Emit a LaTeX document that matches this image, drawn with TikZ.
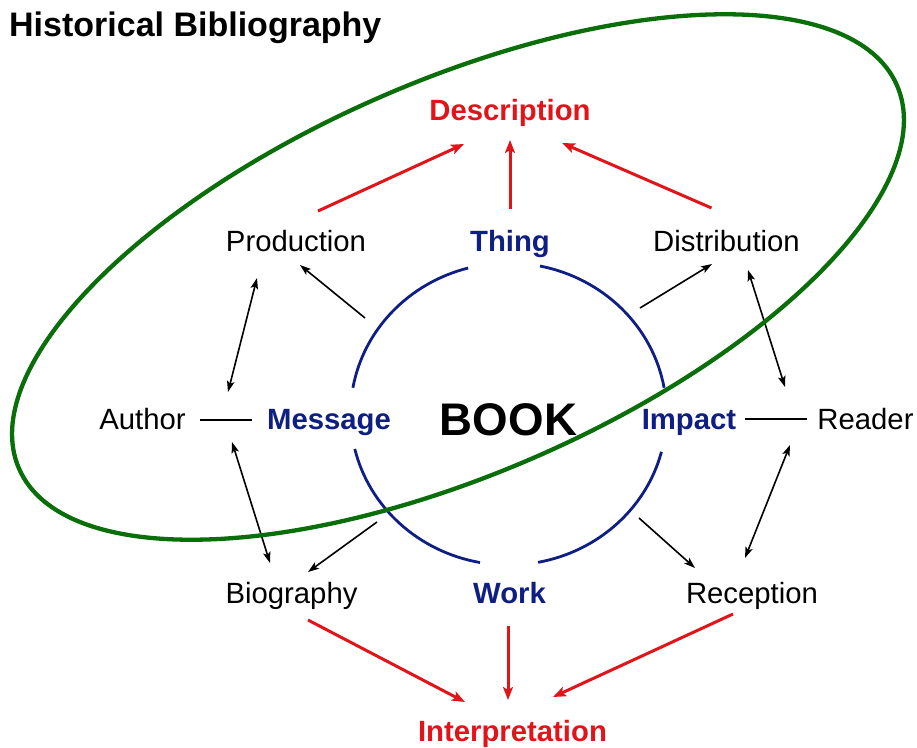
\documentclass[tikz,border=0pt]{standalone}
\usepackage{fontspec}
\setmainfont{Liberation Sans}
\usetikzlibrary{arrows.meta}
\definecolor{hbred}{RGB}{225,20,25}
\definecolor{hbblue}{RGB}{15,30,130}
\definecolor{hbgreen}{RGB}{10,110,10}
\begin{document}
\begin{tikzpicture}[x=1pt,y=-1pt,
  lbl/.style={inner sep=0pt, outer sep=0pt, text height=21pt, text depth=0pt,
    font=\fontsize{29.3pt}{35pt}\selectfont},
  plainlbl/.style={lbl, text=black},
  aspect/.style={lbl, text=hbblue, font=\fontsize{29.3pt}{35pt}\selectfont\bfseries},
  outcome/.style={lbl, text=hbred, font=\fontsize{29.3pt}{35pt}\selectfont\bfseries},
  redarrow/.style={draw=hbred, line width=3pt, -{Stealth[length=13pt,width=10pt,inset=3pt]}},
  link/.style={draw=black, line width=1.6pt, -{Stealth[length=11pt,width=7.5pt,inset=2.5pt]}},
  bilink/.style={draw=black, line width=1.6pt,
    {Stealth[length=11pt,width=7.5pt,inset=2.5pt]}-{Stealth[length=11pt,width=7.5pt,inset=2.5pt]}},
  plainline/.style={draw=black, line width=1.6pt},
  bookarc/.style={draw=hbblue, line width=2.8pt},
  scopering/.style={draw=hbgreen, line width=4.3pt}
]
\useasboundingbox (0,0) rectangle (917,747);

% title
\node[anchor=base west, inner sep=0pt, font=\fontsize{34pt}{40pt}\selectfont\bfseries] (title) at (9,36.5) {Historical Bibliography};

% centre
\coordinate (core) at (508.5,414);
\coordinate (ringc) at (458,277);
\node[lbl, text height=32.7pt, font=\fontsize{45.7pt}{52pt}\selectfont\bfseries] (book) at (508.5,419) {BOOK};

% aspects
\node[aspect] (thing) at (510,241) {Thing};
\node[aspect] (msg) at (329,419) {Message};
\node[aspect] (impact) at (689,419) {Impact};
\node[aspect] (work) at (509.5,593) {Work};

% outcomes
\node[outcome] (desc) at (510,110) {Description};
\node[outcome] (interp) at (512.5,731) {Interpretation};

% plain labels
\node[plainlbl] (prod) at (296,241) {Production};
\node[plainlbl] (dist) at (726.5,241) {Distribution};
\node[plainlbl] (author) at (142.5,419) {Author};
\node[plainlbl] (reader) at (865.5,419) {Reader};
\node[plainlbl] (bio) at (291.5,593) {Biography};
\node[plainlbl] (recep) at (752,593) {Reception};

% book ring arcs
\draw[bookarc] (core) ++(104.8:158pt and 151pt) arc[start angle=104.8, end angle=170, x radius=158pt, y radius=151pt];
\draw[bookarc] (core) ++(78.5:158pt and 151pt) arc[start angle=78.5, end angle=10, x radius=158pt, y radius=151pt];
\draw[bookarc] (core) ++(193.4:158pt and 151pt) arc[start angle=193.4, end angle=259.6, x radius=158pt, y radius=151pt];
\draw[bookarc] (core) ++(-14.5:158pt and 151pt) arc[start angle=-14.5, end angle=-79.2, x radius=158pt, y radius=151pt];

% red arrows
\draw[redarrow] ([shift={(22,-30)}]prod.center) -- ([shift={(-46,34)}]desc.center);
\draw[redarrow] ([shift={(0,-32)}]thing.center) -- ([shift={(0,30)}]desc.center);
\draw[redarrow] ([shift={(-15,-33)}]dist.center) -- ([shift={(52,33)}]desc.center);
\draw[redarrow] ([shift={(16.5,27)}]bio.center) -- ([shift={(-47.5,-29)}]interp.center);
\draw[redarrow] ([shift={(-1.5,33)}]work.center) -- ([shift={(-4.5,-31)}]interp.center);
\draw[redarrow] ([shift={(-19,21)}]recep.center) -- ([shift={(40.5,-34)}]interp.center);

% black connectors
\draw[link] ([shift={(-143.5,-96)}]core) -- ([shift={(4,24)}]prod.center);
\draw[link] ([shift={(131.5,-106)}]core) -- ([shift={(-14.5,23)}]dist.center);
\draw[link] ([shift={(-131.5,108)}]core) -- ([shift={(16.5,-21)}]bio.center);
\draw[link] ([shift={(130.5,104)}]core) -- ([shift={(-57,-25)}]recep.center);
\draw[bilink] ([shift={(85.5,-27)}]author.center) -- ([shift={(-39,37)}]prod.center);
\draw[bilink] ([shift={(89.5,23)}]author.center) -- ([shift={(-21.5,-30)}]bio.center);
\draw[bilink] ([shift={(21.5,29)}]dist.center) -- ([shift={(-80.5,-32)}]reader.center);
\draw[bilink] ([shift={(-75.5,26)}]reader.center) -- ([shift={(-7,-35)}]recep.center);
\draw[plainline] ([shift={(57.5,1)}]author.center) -- ([shift={(-77,1)}]msg.center);
\draw[plainline] ([shift={(56,0)}]impact.center) -- ([shift={(-58.5,0)}]reader.center);

% scope ellipse
\draw[scopering, rotate around={23.6:(ringc)}] (ringc) ellipse [x radius=479pt, y radius=196pt];
\end{tikzpicture}
\end{document}
